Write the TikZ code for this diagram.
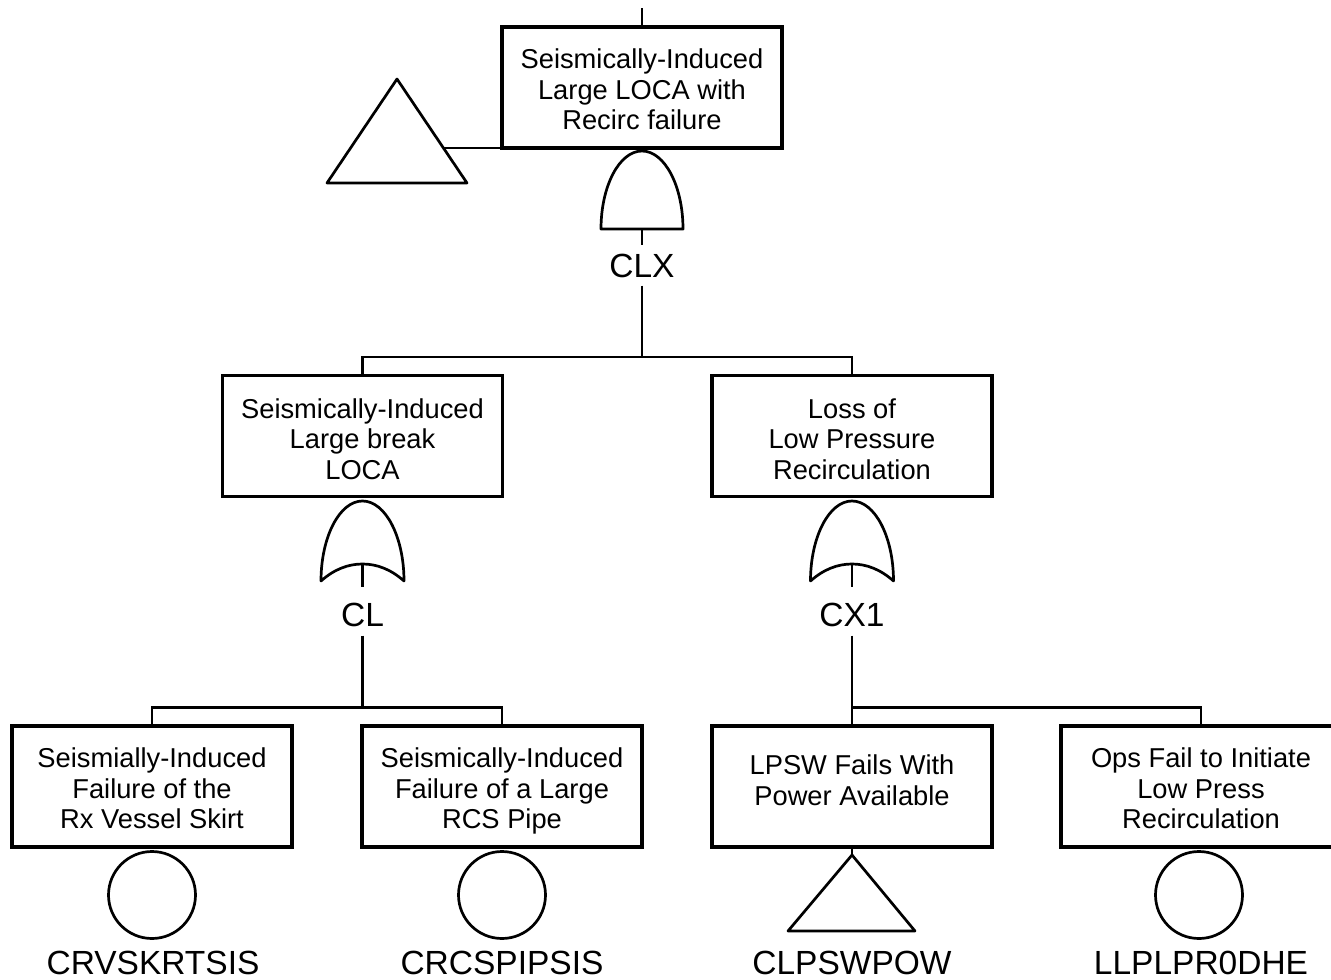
\documentclass[tikz,border=0pt]{standalone}
\usepackage{fontspec}
\setmainfont{Liberation Sans}
\begin{document}
\begin{tikzpicture}[x=1pt,y=-1pt,
  box/.style={draw, line width=3.2pt, minimum width=280pt, minimum height=121pt, inner sep=0pt},
  boxtext/.style={align=center, inner sep=0pt, anchor=north, font=\fontsize{27.3}{30.5}\selectfont},
  idlabel/.style={inner sep=0pt, anchor=base, font=\fontsize{33.5}{38}\selectfont},
  wire/.style={line width=2.7pt},
  outline/.style={line width=2.7pt, line join=round},
  basic/.style={draw, circle, line width=2.7pt, minimum size=87pt, inner sep=0pt},
  andgate/.pic={\draw[outline] (-41,0) .. controls (-41,-43.1) and (-22.6,-78) .. (0,-78)
      .. controls (22.6,-78) and (41,-43.1) .. (41,0) -- cycle;},
  orgate/.pic={\draw[outline] (-41.5,0) .. controls (-41.5,-44.2) and (-22.9,-80) .. (0,-80)
      .. controls (22.9,-80) and (41.5,-44.2) .. (41.5,0)
      .. controls (28,-12) and (14,-17) .. (0,-17)
      .. controls (-14,-17) and (-28,-12) .. (-41.5,0) -- cycle;},
]
\useasboundingbox (0,0) rectangle (1331,980);

% ---------- top event ----------
\node[box] (top) at (642,87.5) {};
\node[boxtext] (topt) at ([yshift=-21.65pt]top.north) {\strut Seismically-Induced\\Large LOCA with\\Recirc failure};
\coordinate (feed) at (642,8);
\draw[wire] (feed) -- (top.north);

% transfer triangle beside the top event
\coordinate (trA) at (397,79);
\coordinate (trL) at (327,183);
\coordinate (trR) at (467,183);
\coordinate (trTap) at (443.4,148);
\draw[outline] (trA) -- (trR) -- (trL) -- cycle;
\draw[wire] (trTap) -- (trTap -| top.west);

% AND gate CLX
\coordinate (clxBase) at (642,229);
\pic at (clxBase) {andgate};
\node[idlabel] (clx) at (642,277) {CLX};
\draw[wire] (clxBase) -- ([yshift=8pt]clx.north);

% ---------- second level ----------
\node[box] (lbox) at (362.5,436) {};
\node[boxtext] (lboxt) at ([yshift=-22.65pt]lbox.north) {\strut Seismically-Induced\\Large break\\LOCA};
\node[box] (rbox) at (852,436) {};
\node[boxtext] (rboxt) at ([yshift=-22.65pt]rbox.north) {\strut Loss of\\Low Pressure\\Recirculation};

\coordinate (j1) at (642,358);
\draw[wire] ([yshift=-8pt]clx.south) -- (j1);
\draw[wire] (lbox.north) -- ++(0,-17) -| (rbox.north);

% OR gate CL
\coordinate (clBase) at (362.5,581);
\coordinate (clIn) at (362.5,564);
\pic at (clBase) {orgate};
\node[idlabel] (cl) at (362.5,626) {CL};
\draw[wire] (clIn) -- ([yshift=15pt]cl.north);

% OR gate CX1
\coordinate (cxBase) at (852,581);
\coordinate (cxIn) at (852,564);
\pic at (cxBase) {orgate};
\node[idlabel] (cx) at (852,626) {CX1};
\draw[wire] (cxIn) -- ([yshift=15pt]cx.north);

% ---------- third level ----------
\node[box] (e1) at (152,786.5) {};
\node[boxtext] (e1t) at ([yshift=-21.65pt]e1.north) {\strut Seismially-Induced\\Failure of the\\Rx Vessel Skirt};
\node[box] (e2) at (502,786.5) {};
\node[boxtext] (e2t) at ([yshift=-21.65pt]e2.north) {\strut Seismically-Induced\\Failure of a Large\\RCS Pipe};
\node[box] (e3) at (852,786.5) {};
\node[boxtext] (e3t) at ([yshift=-28.65pt]e3.north) {\strut LPSW Fails With\\Power Available};
\node[box] (e4) at (1201,786.5) {};
\node[boxtext] (e4t) at ([yshift=-21.65pt]e4.north) {\strut Ops Fail to Initiate\\Low Press\\Recirculation};

\coordinate (j2) at (362.5,708);
\draw[wire] ([yshift=-9pt]cl.south) -- (j2);
\draw[wire] (e1.north) -- ++(0,-17) -| (e2.north);
\draw[wire] ([yshift=-9pt]cx.south) -- (e3.north);
\draw[wire] (e3.north) ++(0,-17) -| (e4.north);

% basic events
\node[basic] (c1) at (152,895) {};
\node[basic] (c2) at (502,895) {};
\node[basic] (c4) at (1199,895) {};

% transfer triangle under LPSW
\coordinate (tbA) at (852,855);
\coordinate (tbL) at (788,931);
\coordinate (tbR) at (915,931);
\draw[wire] (e3.south) -- (tbA);
\draw[outline] (tbA) -- (tbR) -- (tbL) -- cycle;

% event identifiers
\node[idlabel] (n1) at (153,974) {CRVSKRTSIS};
\node[idlabel] (n2) at (502,974) {CRCSPIPSIS};
\node[idlabel] (n3) at (852,974) {CLPSWPOW};
\node[idlabel] (n4) at (1201,974) {LLPLPR0DHE};
\end{tikzpicture}
\end{document}
